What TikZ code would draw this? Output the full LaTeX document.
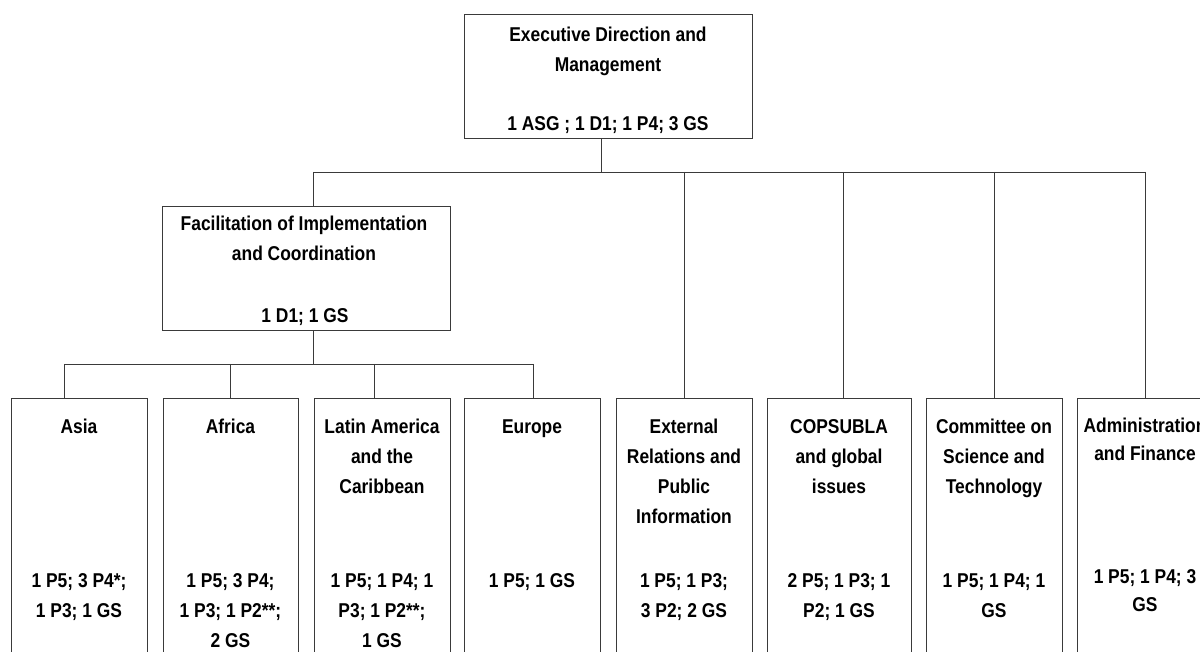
\documentclass[tikz,border=0pt]{standalone}
\usepackage{fontspec}
\setmainfont{Liberation Sans}[FakeStretch=0.87]
\definecolor{linec}{HTML}{3A3A3A}
\begin{document}
\begin{tikzpicture}[x=1pt,y=-1pt,
  box/.style={draw=linec, line width=0.9pt, rectangle, inner sep=0pt, anchor=north west, fill=none},
  txt/.style={inner sep=0pt, anchor=north, align=center, font=\bfseries\fontsize{20}{30}\selectfont},
  txtb/.style={inner sep=0pt, anchor=north, align=center, font=\bfseries\fontsize{20}{28.5}\selectfont},
  conn/.style={draw=linec, line width=0.9pt}]
\useasboundingbox (0,0) rectangle (1200,652);
\clip (0,0) rectangle (1200,652);
% boxes
\node[box, minimum width=288, minimum height=124] (top) at (464,14) {};
\node[box, minimum width=288, minimum height=124] (fac) at (162,206) {};
\node[box, minimum width=136, minimum height=270] (asia) at (11,398) {};
\node[box, minimum width=135, minimum height=270] (afr) at (163,398) {};
\node[box, minimum width=136, minimum height=270] (lat) at (314,398) {};
\node[box, minimum width=136, minimum height=270] (eur) at (464,398) {};
\node[box, minimum width=136, minimum height=270] (ext) at (616,398) {};
\node[box, minimum width=144, minimum height=270] (cop) at (767,398) {};
\node[box, minimum width=136, minimum height=270] (cst) at (926,398) {};
\node[box, minimum width=136, minimum height=270] (adm) at (1077,398) {};
% texts
\node[txt] (topT) at (608,20.5) {\strut Executive Direction and\\Management};
\node[txt] (topN) at (608,109) {\strut 1 ASG ; 1 D1; 1 P4; 3 GS};
\node[txt] (facT) at (304,209) {\strut Facilitation of Implementation\\and Coordination};
\node[txt] (facN) at (305,301) {\strut 1 D1; 1 GS};
\node[txt] (asiaT) at (79,412.5) {\strut Asia};
\node[txt] (asiaN) at (79,566) {\strut 1 P5; 3 P4*;\\1 P3; 1 GS};
\node[txt] (afrT) at (230.5,412.5) {\strut Africa};
\node[txt] (afrN) at (230.5,566) {\strut 1 P5; 3 P4;\\1 P3; 1 P2**;\\2 GS};
\node[txt] (latT) at (382,412.5) {\strut Latin America\\and the\\Caribbean};
\node[txt] (latN) at (382,566) {\strut 1 P5; 1 P4; 1\\P3; 1 P2**;\\1 GS};
\node[txt] (eurT) at (532,412.5) {\strut Europe};
\node[txt] (eurN) at (532,566) {\strut 1 P5; 1 GS};
\node[txt] (extT) at (684,412.5) {\strut External\\Relations and\\Public\\Information};
\node[txt] (extN) at (684,566) {\strut 1 P5; 1 P3;\\3 P2; 2 GS};
\node[txt] (copT) at (839,412.5) {\strut COPSUBLA\\and global\\issues};
\node[txt] (copN) at (839,566) {\strut 2 P5; 1 P3; 1\\P2; 1 GS};
\node[txt] (cstT) at (994,412.5) {\strut Committee on\\Science and\\Technology};
\node[txt] (cstN) at (994,566) {\strut 1 P5; 1 P4; 1\\GS};
\node[txtb] (admT) at (1145,412) {\strut Administration\\and Finance};
\node[txtb] (admN) at (1145,563) {\strut 1 P5; 1 P4; 3\\GS};
% junction coordinates
\coordinate (j0) at (601,172);
\coordinate (jL) at (313,172);
\coordinate (jE) at (684,172);
\coordinate (jC) at (843,172);
\coordinate (jS) at (994,172);
\coordinate (jA) at (1145,172);
\coordinate (k0) at (313,364);
\coordinate (kA) at (64,364);
\coordinate (kF) at (230,364);
\coordinate (kL) at (374,364);
\coordinate (kE) at (533,364);
% connectors
\draw[conn] (top.south -| j0) -- (j0);
\draw[conn] (jL) -- (jA);
\draw[conn] (jL) -- (fac.north -| jL);
\draw[conn] (jE) -- (ext.north -| jE);
\draw[conn] (jC) -- (cop.north -| jC);
\draw[conn] (jS) -- (cst.north -| jS);
\draw[conn] (jA) -- (adm.north -| jA);
\draw[conn] (fac.south -| k0) -- (k0);
\draw[conn] (kA) -- (kE);
\draw[conn] (kA) -- (asia.north -| kA);
\draw[conn] (kF) -- (afr.north -| kF);
\draw[conn] (kL) -- (lat.north -| kL);
\draw[conn] (kE) -- (eur.north -| kE);
\end{tikzpicture}
\end{document}
